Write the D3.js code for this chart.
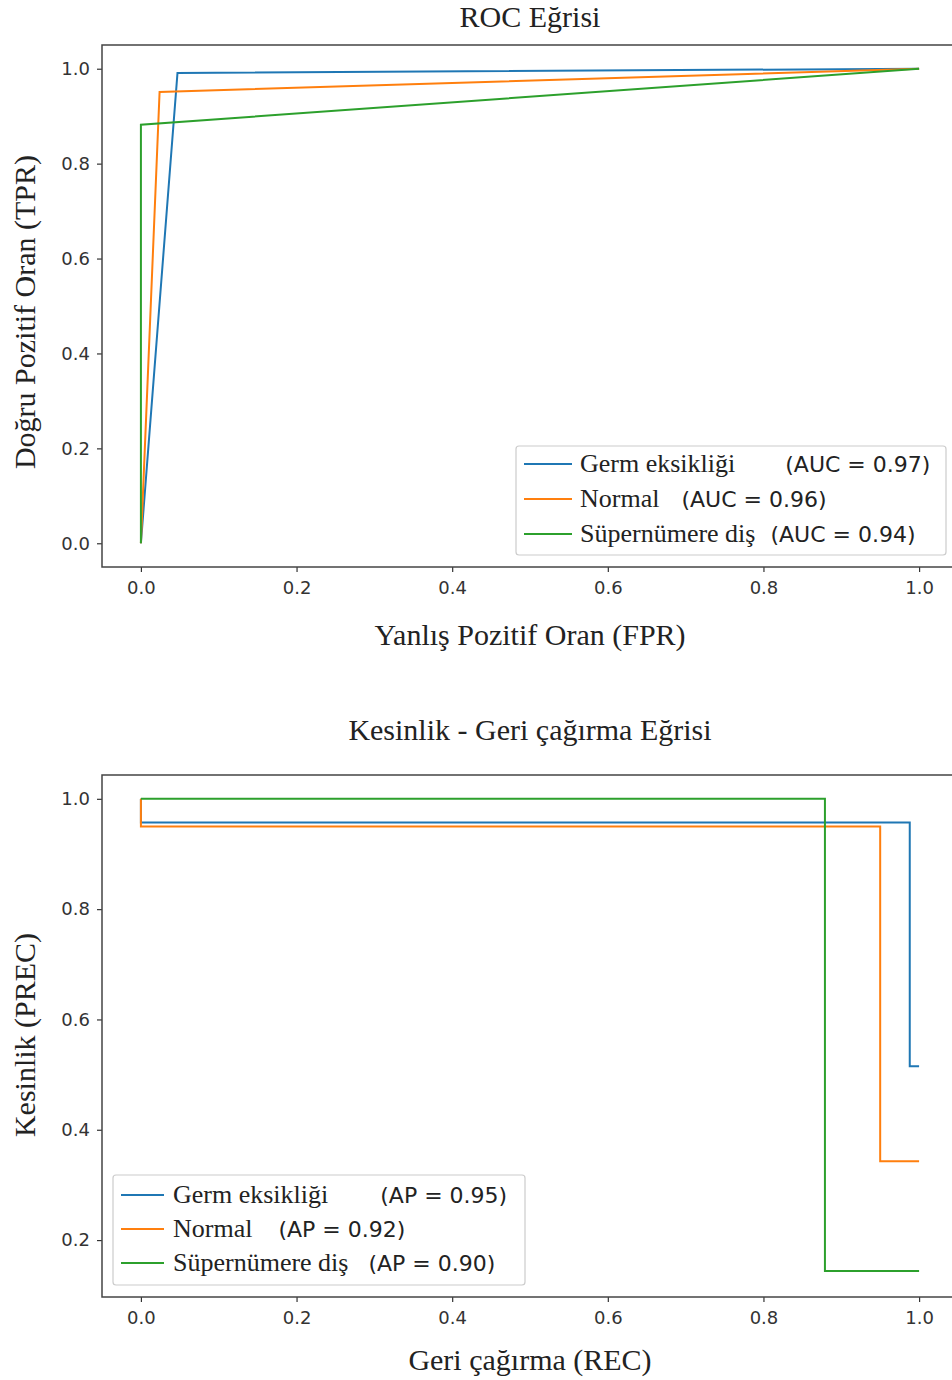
<!DOCTYPE html>
<html><head><meta charset="utf-8">
<script src="https://cdn.jsdelivr.net/npm/d3@7"></script>
<style>body{margin:0;background:#fff}</style>
</head><body><svg id="c" width="952" height="1380"></svg>
<script>
// ---- data ----
const classes = ["Germ eksikliği", "Normal", "Süpernümere diş"];
const colors = ["#1f77b4", "#ff7f0e", "#2ca02c"];
const aucValues = ["0.97", "0.96", "0.94"];
const apValues = ["0.95", "0.92", "0.90"];
// ROC curves
const rocFprGerm = [0, 0.047, 1];
const rocTprGerm = [0, 0.991, 1];
const rocFprNormal = [0, 0.024, 1];
const rocTprNormal = [0, 0.951, 1];
const rocFprSuper = [0, 0.0, 1];
const rocTprSuper = [0, 0.882, 1];
// Precision-recall curves (steps-post)
const prRecGerm = [1, 0.988, 0, 0];
const prPrecGerm = [0.515, 0.957, 0.957, 1];
const prRecNormal = [1, 0.95, 0, 0];
const prPrecNormal = [0.343, 0.950, 0.950, 1];
const prRecSuper = [1, 0.879, 0, 0];
const prPrecSuper = [0.144, 1, 1, 1];
// ticks
const xTicks = [0, 0.2, 0.4, 0.6, 0.8, 1.0];
const rocYTicks = [0, 0.2, 0.4, 0.6, 0.8, 1.0];
const prYTicks = [0.2, 0.4, 0.6, 0.8, 1.0];

// ---- drawing ----
const svg = d3.select("#c");
const SERIF = "'Liberation Serif','Times New Roman',serif";
const SANS = "'DejaVu Sans',sans-serif";
const zip = (xs, ys) => xs.map((x, i) => [x, ys[i]]);

function panel(cfg) {
  const g = svg.append("g");
  const x = d3.scaleLinear().domain([-0.05, 1.05]).range([cfg.left, cfg.right]);
  const y = d3.scaleLinear().domain(cfg.ydom).range([cfg.bottom, cfg.top]);
  const clipId = "clip" + cfg.id;
  svg.append("clipPath").attr("id", clipId).append("rect")
    .attr("x", cfg.left).attr("y", cfg.top).attr("width", cfg.right - cfg.left).attr("height", cfg.bottom - cfg.top);

  const line = d3.line().x(d => x(d[0])).y(d => y(d[1])).curve(cfg.curve);
  cfg.series.forEach((s, i) => {
    g.append("path").datum(s).attr("d", line).attr("fill", "none")
      .attr("stroke", colors[i]).attr("stroke-width", 2).attr("clip-path", `url(#${clipId})`);
  });

  // axes
  const xa = g.append("g").attr("transform", `translate(0,${cfg.bottom})`)
    .call(d3.axisBottom(x).tickValues(xTicks).tickFormat(d3.format(".1f")).tickSize(5).tickPadding(9));
  const ya = g.append("g").attr("transform", `translate(${cfg.left},0)`)
    .call(d3.axisLeft(y).tickValues(cfg.yticks).tickFormat(d3.format(".1f")).tickSize(5).tickPadding(7));
  [xa, ya].forEach(a => {
    a.select(".domain").remove();
    a.selectAll("line").attr("stroke", "#333").attr("stroke-width", 1.2);
    a.selectAll("text").attr("font-family", SANS).attr("font-size", 18).attr("fill", "#333");
  });
  // frame
  g.append("rect").attr("x", cfg.left).attr("y", cfg.top)
    .attr("width", cfg.right - cfg.left).attr("height", cfg.bottom - cfg.top)
    .attr("fill", "none").attr("stroke", "#444").attr("stroke-width", 1.5);

  // title & labels
  const cx = (cfg.left + cfg.right) / 2;
  g.append("text").attr("x", cx).attr("y", cfg.titleY).attr("text-anchor", "middle")
    .attr("font-family", SERIF).attr("font-size", 30).attr("fill", "#222").text(cfg.title);
  g.append("text").attr("x", cx).attr("y", cfg.xlabelY).attr("text-anchor", "middle")
    .attr("font-family", SERIF).attr("font-size", 30).attr("fill", "#222").text(cfg.xlabel);
  g.append("text").attr("transform", `translate(35,${cfg.ylabelCY}) rotate(-90)`).attr("text-anchor", "middle")
    .attr("font-family", SERIF).attr("font-size", 30).attr("fill", "#222").text(cfg.ylabel);

  // legend
  const L = cfg.legend;
  g.append("rect").attr("x", L.x).attr("y", L.y).attr("width", L.w).attr("height", L.h)
    .attr("rx", 3).attr("fill", "#fff").attr("fill-opacity", 0.85).attr("stroke", "#ccc").attr("stroke-width", 1.2);
  classes.forEach((c, i) => {
    const ry = L.y + L.row0 + i * L.rowStep;
    g.append("line").attr("x1", L.x + 8).attr("x2", L.x + 8 + L.lineLen).attr("y1", ry).attr("y2", ry)
      .attr("stroke", colors[i]).attr("stroke-width", 2);
    const t = g.append("text").attr("x", L.x + L.textOff).attr("y", ry + 8).attr("fill", "#222");
    t.append("tspan").attr("font-family", SERIF).attr("font-size", 26).text(c);
    t.append("tspan").attr("dx", L.gaps[i]).attr("font-family", SANS).attr("font-size", 22)
      .text(`(${cfg.metric} = ${cfg.metricValues[i]})`);
  });
}

panel({
  id: "roc", left: 102, right: 958, top: 45, bottom: 567, ydom: [-0.05, 1.05],
  yticks: rocYTicks, curve: d3.curveLinear,
  series: [zip(rocFprGerm, rocTprGerm), zip(rocFprNormal, rocTprNormal), zip(rocFprSuper, rocTprSuper)],
  title: "ROC Eğrisi", titleY: 27, xlabel: "Yanlış Pozitif Oran (FPR)", xlabelY: 645,
  ylabel: "Doğru Pozitif Oran (TPR)", ylabelCY: 312,
  metric: "AUC", metricValues: aucValues,
  legend: { x: 516, y: 446, w: 430, h: 109, row0: 18, rowStep: 35, lineLen: 48, textOff: 64, gaps: [50, 22, 15] }
});

panel({
  id: "pr", left: 102, right: 958, top: 775, bottom: 1297, ydom: [0.0968, 1.0432],
  yticks: prYTicks, curve: d3.curveStepAfter,
  series: [zip(prRecGerm, prPrecGerm), zip(prRecNormal, prPrecNormal), zip(prRecSuper, prPrecSuper)],
  title: "Kesinlik - Geri çağırma Eğrisi", titleY: 740, xlabel: "Geri çağırma (REC)", xlabelY: 1370,
  ylabel: "Kesinlik (PREC)", ylabelCY: 1035,
  metric: "AP", metricValues: apValues,
  legend: { x: 113, y: 1175, w: 412, h: 110, row0: 20, rowStep: 34, lineLen: 43, textOff: 60, gaps: [52, 26, 20] }
});
</script></body></html>
